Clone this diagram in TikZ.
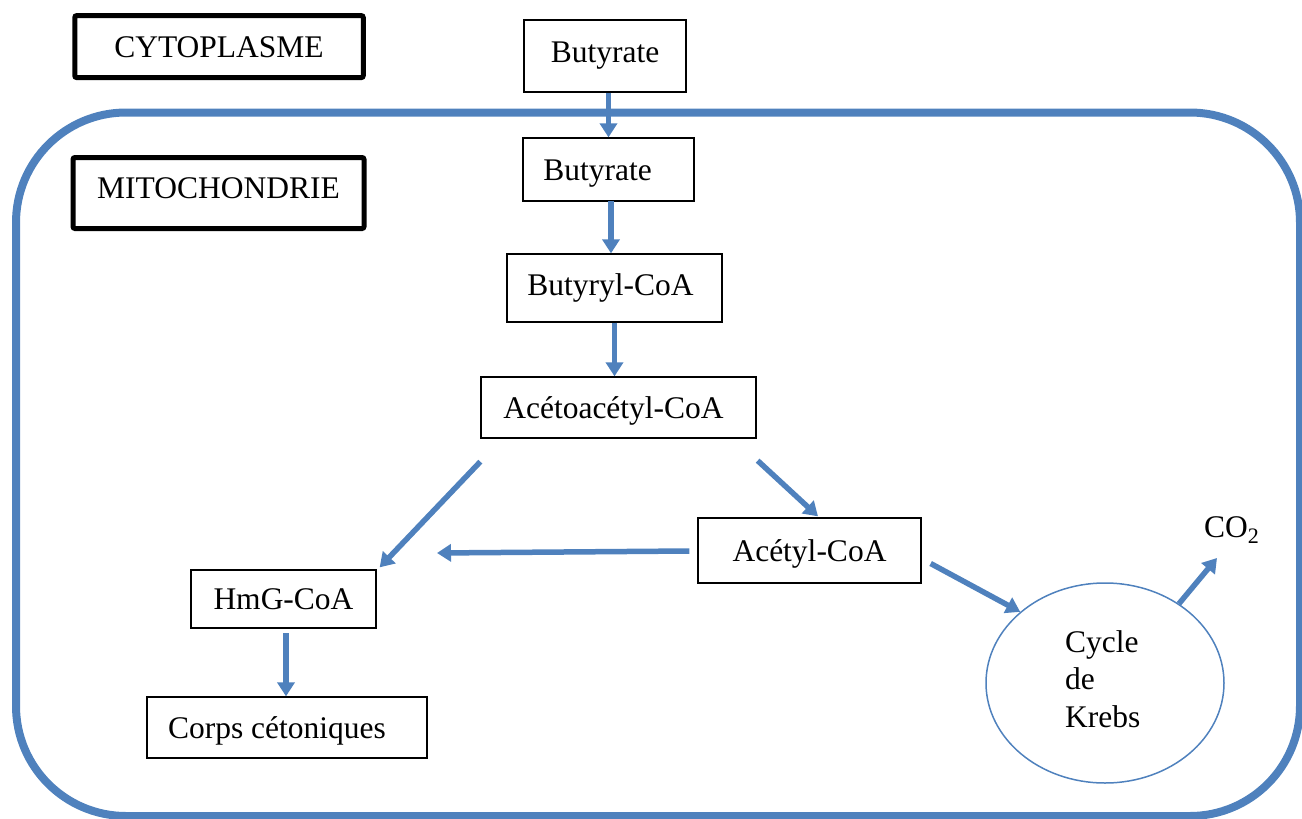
\documentclass[tikz,border=0pt]{standalone}
\usepackage{fontspec}
\setmainfont{Liberation Serif}
\usetikzlibrary{arrows.meta,shapes.geometric,calc}
\definecolor{accent}{HTML}{4F81BD}
\begin{document}
\begin{tikzpicture}[x=1pt,y=-1pt,
  font=\fontsize{31.5}{37.5}\selectfont,
  box/.style={draw=black, line width=1.3pt, inner sep=0pt, rectangle, text height=21pt, text depth=0pt},
  titlebox/.style={draw=black, line width=5pt, rounded corners=2pt, inner sep=0pt, text height=21pt, text depth=0pt},
  flow/.style={draw=accent, line width=5.5pt, -{Triangle[length=14pt,width=17pt]}},
  membrane/.style={draw=accent, line width=8pt, rounded corners=110pt},
  ]
\useasboundingbox (0,0) rectangle (1302,819);
% mitochondrial membrane
\draw[membrane] (16,112.5) rectangle (1300,816);
% title boxes
\node[titlebox, minimum width=288.5pt, minimum height=62pt] (cyto) at (219,46.6) {CYTOPLASME};
\node[titlebox, minimum width=291pt, minimum height=71pt, text depth=10pt] (mito) at (218.5,193) {MITOCHONDRIE};
% pathway boxes
\node[box, minimum width=162pt, minimum height=72pt, text depth=8pt] (b1) at (605,56) {Butyrate};
\node[box, minimum width=171pt, minimum height=63pt] (b2) at (608.5,169.5) {Butyrate\hspace*{22pt}};
\node[box, minimum width=215pt, minimum height=68pt, text depth=6pt] (b3) at (614.5,288) {Butyryl-CoA\hspace*{8pt}};
\node[box, minimum width=275pt, minimum height=61pt] (aceto) at (618.5,407.5) {Acétoacétyl-CoA\hspace*{10pt}};
\node[box, minimum width=223pt, minimum height=65pt] (acetyl) at (809.5,550.5) {Acétyl-CoA};
\node[box, minimum width=185pt, minimum height=58pt] (hmg) at (283.5,599) {HmG-CoA};
\node[box, minimum width=280pt, minimum height=61pt] (corps) at (287,727.5) {Corps cétoniques\hspace*{20pt}};
\node[ellipse, draw=accent, line width=1.5pt, minimum width=238pt, minimum height=200pt, inner sep=0pt] (krebs) at (1105,683) {};
\node[align=left, anchor=base west, inner sep=0pt] (krebstxt) at (1065,727) {Cycle\\de\\Krebs};
\node[inner sep=0pt, anchor=base west] (co2) at (1204,537) {CO\textsubscript{2}};
% free ends
\coordinate (hmgin) at (437,553);
\coordinate (co2in) at (1217,558);
\coordinate (a2) at (611,201);
\coordinate (a9) at (286,633);
% connectors
\draw[flow] (b2.north |- b1.south) -- (b2.north);
\draw[flow] (a2) -- (a2 |- b3.north);
\draw[flow] (b3.south) -- (b3.south |- aceto.north);
\draw[flow] ($(aceto.south west)+(0,23)$) -- ($(hmg.north east)+(3,-2)$);
\draw[flow] ($(aceto.south east)+(1,22)$) -- ($(acetyl.north)+(8.5,-1)$);
\draw[flow] ($(acetyl.west)+(-8,0.5)$) -- (hmgin);
\draw[flow] ($(acetyl.east)+(9,13)$) -- (krebs.140);
\draw[flow] (krebs.47) -- (co2in);
\draw[flow] (a9) -- (a9 |- corps.north);
\end{tikzpicture}
\end{document}
